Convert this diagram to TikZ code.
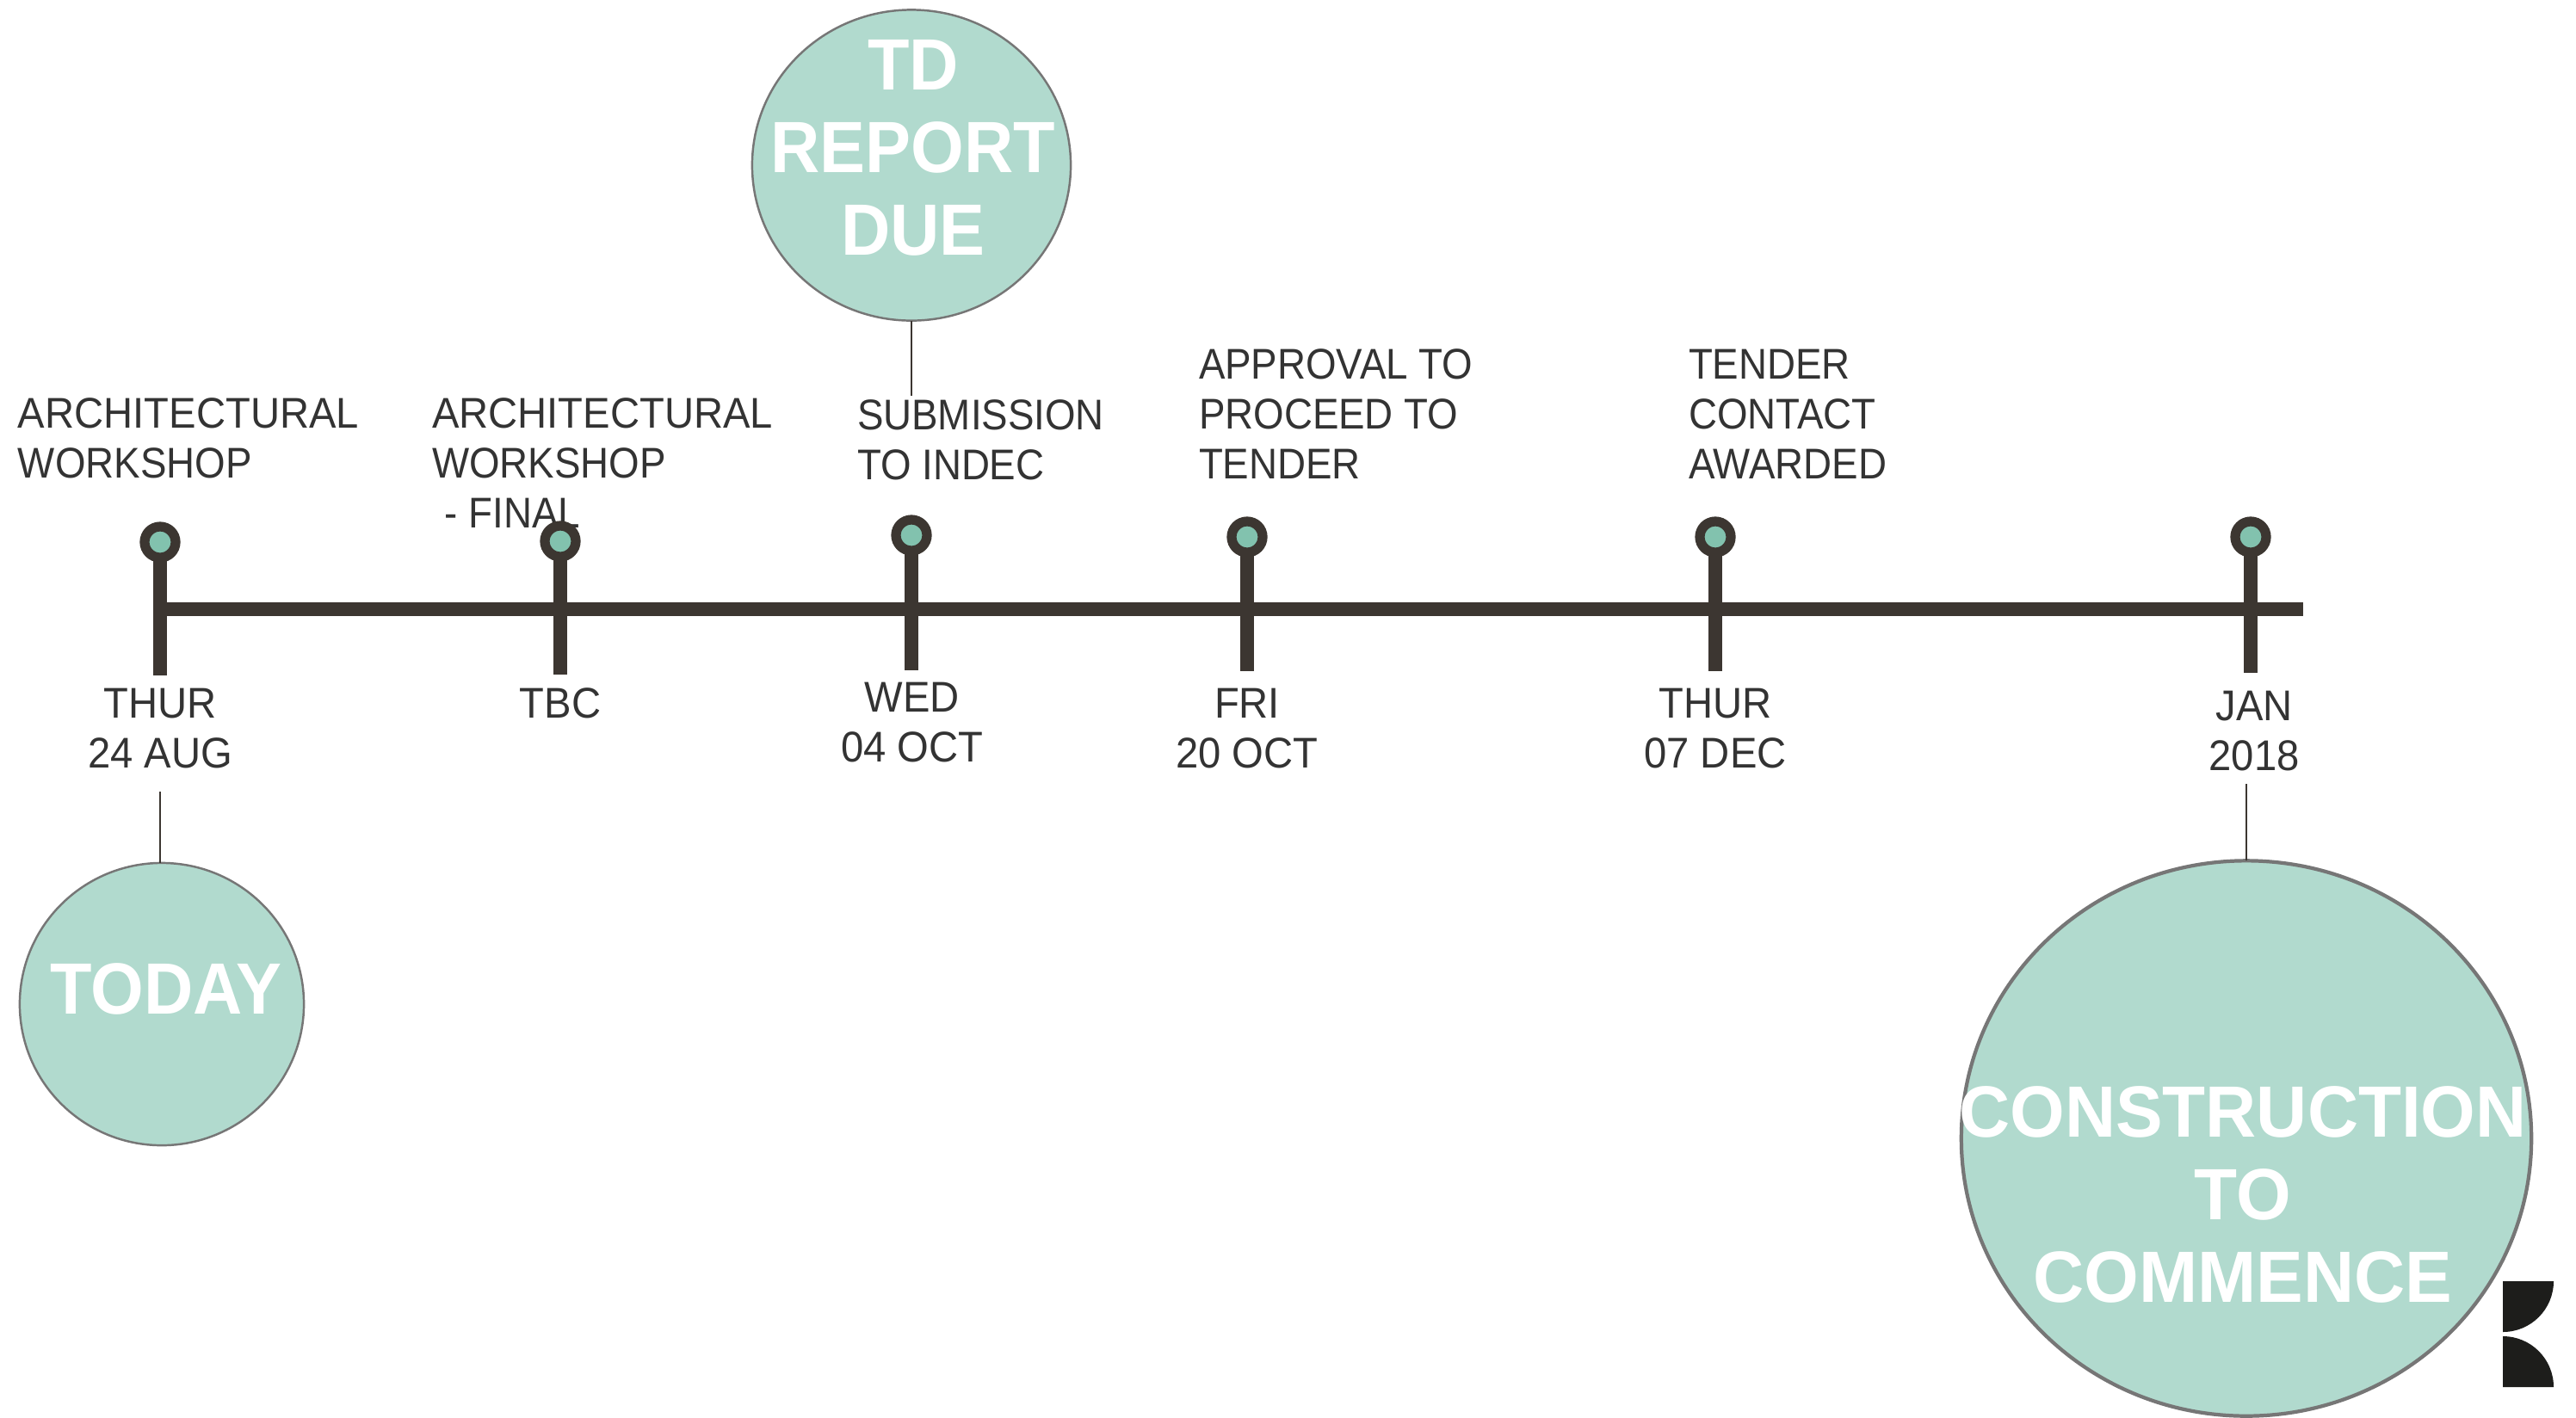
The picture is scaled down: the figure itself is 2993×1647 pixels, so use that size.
\documentclass[tikz,border=0pt]{standalone}
\usepackage{fontspec}
\setmainfont{Liberation Sans}
\newfontfamily\labfont[FakeStretch=0.945]{Liberation Sans}
\newfontfamily\labnarrow[FakeStretch=0.915]{Liberation Sans}
\newfontfamily\bigfont[FakeStretch=0.97]{Liberation Sans}
\newfontfamily\bignarrow[FakeStretch=0.94]{Liberation Sans}
\usetikzlibrary{shapes.geometric}
\definecolor{barc}{HTML}{3C3631}
\definecolor{dotc}{HTML}{82C2AE}
\definecolor{bubc}{HTML}{B1DACE}
\definecolor{edgec}{HTML}{767676}
\definecolor{txtc}{HTML}{333333}
\definecolor{logoc}{HTML}{1D1D1B}
\tikzset{
 x=0.01cm,y=-0.01cm,
 lab/.style={inner sep=0pt,outer sep=0pt,text=txtc,align=left,anchor=north west,font=\labfont\fontsize{14.2pt}{16.5pt}\selectfont},
 labn/.style={lab,font=\labnarrow\fontsize{14.2pt}{16.5pt}\selectfont},
 dat/.style={inner sep=0pt,outer sep=0pt,text=txtc,align=center,anchor=north,font=\labfont\fontsize{14.2pt}{16.5pt}\selectfont},
 bigt/.style={inner sep=0pt,outer sep=0pt,text=white,align=center,anchor=north,font=\bigfont\bfseries\fontsize{24pt}{27.3pt}\selectfont},
 bign/.style={bigt,font=\bignarrow\bfseries\fontsize{24pt}{27.3pt}\selectfont},
 bub/.style={ellipse,draw=edgec,fill=bubc,line width=0.7pt,inner sep=0pt,outer sep=0pt},
 mark dot/.style={circle,draw=barc,fill=dotc,line width=3.2pt,minimum size=0.36cm,inner sep=0pt,outer sep=0pt},
 bar/.style={draw=barc,line width=0.16cm},
 thin link/.style={draw=barc,line width=0.8pt},
}
\begin{document}
\begin{tikzpicture}
\useasboundingbox (0,0) rectangle (2993,1647);
% labels above
\node[lab] (a1) at (21,463) {ARCHITECTURAL\\{\labnarrow WORKSHOP}};
\node[lab] (a2) at (502,463) {ARCHITECTURAL\\{\labnarrow WORKSHOP}\\\hspace*{0.3em}{\labnarrow - FINAL}};
\node[labn] (a3) at (996,465) {SUBMISSION\\TO INDEC};
\node[labn] (a4) at (1393,406) {APPROVAL TO\\PROCEED TO\\TENDER};
\node[labn] (a5) at (1962,406) {TENDER\\CONTACT\\AWARDED};
% dates
\node[dat] (d1) at (186,800) {THUR\\24 AUG};
\node[dat] (d2) at (651,800) {TBC};
\node[dat] (d3) at (1060,793) {WED\\04 OCT};
\node[dat] (d4) at (1449,800) {FRI\\20 OCT};
\node[dat] (d5) at (1993,800) {THUR\\07 DEC};
\node[dat] (d6) at (2619,803) {JAN\\2018};
% timeline
\coordinate (t0) at (186,708);
\coordinate (t1) at (2676,708);
\draw[bar] (t0) -- (t1);
\node[mark dot] (m1) at (186,630) {};
\node[mark dot] (m2) at (651,629) {};
\node[mark dot] (m3) at (1059,622) {};
\node[mark dot] (m4) at (1449,624) {};
\node[mark dot] (m5) at (1993,624) {};
\node[mark dot] (m6) at (2615,624) {};
\coordinate (s1) at (186,785);
\coordinate (s2) at (651,784);
\coordinate (s3) at (1059,779);
\coordinate (s4) at (1449,780);
\coordinate (s5) at (1993,780);
\coordinate (s6) at (2615,782);
\foreach \i in {1,...,6} {\draw[bar] (m\i) -- (s\i);}
% bubbles
\node[bub,minimum width=3.70cm,minimum height=3.61cm] (c1) at (1059,192) {};
\node[bub,minimum width=3.30cm,minimum height=3.28cm] (c2) at (188,1167) {};
\node[bub,minimum width=6.62cm,minimum height=6.45cm,line width=1.2pt] (c3) at (2610,1323) {};
\node[bign] (b1) at (1061,46) {TD\\REPORT\\DUE};
\node[bign] (b2) at (193,1120) {TODAY};
\node[bigt] (b3) at (2606,1263) {CONSTRUCTION\\TO\\COMMENCE};
\coordinate (l1) at (1059,460);
\coordinate (l2) at (186,920);
\coordinate (l3) at (2610,911);
\draw[thin link] (c1.south) -- (l1);
\draw[thin link] (l2) -- (l2 |- c2.north);
\draw[thin link] (l3) -- (c3.north);
% logo
\fill[logoc] (2908,1489) -- (2967,1489) arc[start angle=0,end angle=-90,x radius=59,y radius=-59] -- cycle;
\fill[logoc] (2908,1612) -- (2967,1612) arc[start angle=0,end angle=90,x radius=59,y radius=-59] -- cycle;
\end{tikzpicture}
\end{document}
